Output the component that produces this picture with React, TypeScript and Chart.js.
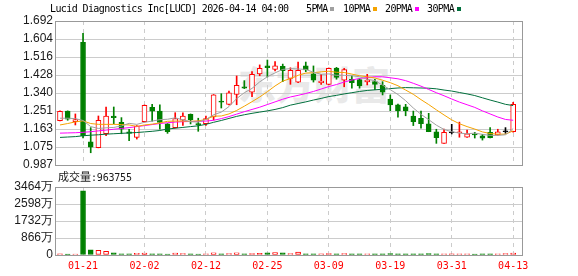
import React, { useEffect, useRef } from 'react';
import { Chart, registerables } from 'chart.js';

Chart.register(...registerables);

// ---------- data ----------
const dates = [
  '01-15', '01-16', '01-20', '01-21', '01-22', '01-23', '01-26', '01-27', '01-28', '01-29',
  '01-30', '02-02', '02-03', '02-04', '02-05', '02-06', '02-09', '02-10', '02-11', '02-12',
  '02-13', '02-17', '02-18', '02-19', '02-20', '02-23', '02-24', '02-25', '02-26', '02-27',
  '03-02', '03-03', '03-04', '03-05', '03-06', '03-09', '03-10', '03-11', '03-12', '03-13',
  '03-16', '03-17', '03-18', '03-19', '03-20', '03-23', '03-24', '03-25', '03-26', '03-27',
  '03-30', '03-31', '04-01', '04-02', '04-06', '04-07', '04-08', '04-09', '04-10', '04-13',
];

const opens = [
  1.204, 1.251, 1.199, 1.588, 1.100, 1.072, 1.140, 1.227, 1.196, 1.150,
  1.122, 1.199, 1.269, 1.251, 1.188, 1.170, 1.207, 1.235, 1.188, 1.189,
  1.223, 1.300, 1.284, 1.333, 1.370, 1.343, 1.433, 1.472, 1.455, 1.470,
  1.411, 1.392, 1.472, 1.433, 1.390, 1.382, 1.462, 1.402, 1.407, 1.405,
  1.395, 1.395, 1.377, 1.310, 1.282, 1.272, 1.227, 1.216, 1.188, 1.150,
  1.093, 1.145, 1.145, 1.123, 1.137, 1.130, 1.147, 1.134, 1.150, 1.150,
];
const highs = [
  1.252, 1.252, 1.237, 1.632, 1.170, 1.227, 1.271, 1.271, 1.219, 1.162,
  1.180, 1.281, 1.284, 1.282, 1.190, 1.243, 1.243, 1.237, 1.216, 1.227,
  1.332, 1.336, 1.349, 1.423, 1.400, 1.444, 1.477, 1.501, 1.493, 1.481,
  1.463, 1.491, 1.491, 1.472, 1.431, 1.462, 1.465, 1.460, 1.423, 1.410,
  1.431, 1.407, 1.395, 1.330, 1.285, 1.284, 1.251, 1.251, 1.240, 1.162,
  1.163, 1.186, 1.197, 1.158, 1.147, 1.137, 1.170, 1.162, 1.170, 1.294,
];
const lows = [
  1.203, 1.206, 1.183, 1.120, 1.047, 1.071, 1.130, 1.189, 1.140, 1.106,
  1.114, 1.197, 1.202, 1.162, 1.142, 1.168, 1.181, 1.188, 1.152, 1.181,
  1.207, 1.266, 1.281, 1.282, 1.361, 1.321, 1.424, 1.418, 1.447, 1.395,
  1.382, 1.390, 1.444, 1.393, 1.382, 1.380, 1.407, 1.370, 1.363, 1.363,
  1.379, 1.356, 1.330, 1.253, 1.221, 1.228, 1.180, 1.167, 1.150, 1.093,
  1.093, 1.139, 1.123, 1.122, 1.119, 1.109, 1.119, 1.133, 1.142, 1.148,
];
const closes = [
  1.250, 1.211, 1.209, 1.130, 1.074, 1.206, 1.227, 1.219, 1.162, 1.142,
  1.178, 1.279, 1.251, 1.196, 1.150, 1.214, 1.227, 1.209, 1.185, 1.214,
  1.330, 1.294, 1.340, 1.377, 1.363, 1.431, 1.460, 1.463, 1.472, 1.449,
  1.451, 1.451, 1.452, 1.402, 1.398, 1.460, 1.416, 1.454, 1.390, 1.374,
  1.402, 1.382, 1.343, 1.281, 1.253, 1.253, 1.199, 1.189, 1.150, 1.121,
  1.147, 1.145, 1.150, 1.139, 1.134, 1.118, 1.121, 1.150, 1.150, 1.284,
];

const ma5 = [
  1.216, 1.216, 1.214, 1.205, 1.175, 1.166, 1.169, 1.171, 1.178, 1.191,
  1.186, 1.196, 1.202, 1.209, 1.211, 1.218, 1.208, 1.199, 1.197, 1.210,
  1.233, 1.246, 1.273, 1.312, 1.341, 1.362, 1.394, 1.419, 1.438, 1.455,
  1.459, 1.457, 1.455, 1.441, 1.431, 1.433, 1.426, 1.426, 1.424, 1.419,
  1.407, 1.400, 1.378, 1.356, 1.332, 1.302, 1.266, 1.235, 1.209, 1.182,
  1.161, 1.150, 1.143, 1.140, 1.143, 1.137, 1.132, 1.132, 1.135, 1.165,
];
const ma10 = [
  1.183, 1.190, 1.198, 1.203, 1.190, 1.186, 1.186, 1.186, 1.185, 1.183,
  1.176, 1.183, 1.187, 1.193, 1.201, 1.202, 1.202, 1.201, 1.203, 1.210,
  1.226, 1.227, 1.237, 1.254, 1.275, 1.297, 1.320, 1.346, 1.374, 1.398,
  1.410, 1.426, 1.437, 1.439, 1.443, 1.446, 1.441, 1.440, 1.432, 1.424,
  1.419, 1.413, 1.402, 1.390, 1.375, 1.354, 1.333, 1.307, 1.283, 1.257,
  1.232, 1.208, 1.189, 1.175, 1.163, 1.149, 1.141, 1.138, 1.138, 1.154,
];
const ma20 = [
  1.143, 1.144, 1.145, 1.147, 1.150, 1.154, 1.158, 1.162, 1.166, 1.170,
  1.175, 1.180, 1.185, 1.190, 1.194, 1.197, 1.199, 1.200, 1.201, 1.202,
  1.206, 1.214, 1.224, 1.236, 1.248, 1.259, 1.270, 1.283, 1.296, 1.309,
  1.320, 1.328, 1.337, 1.347, 1.359, 1.371, 1.381, 1.393, 1.403, 1.411,
  1.415, 1.419, 1.419, 1.414, 1.409, 1.400, 1.387, 1.373, 1.357, 1.341,
  1.326, 1.310, 1.295, 1.282, 1.269, 1.252, 1.237, 1.222, 1.210, 1.206,
];
const ma30 = [
  1.122, 1.124, 1.126, 1.130, 1.133, 1.135, 1.138, 1.140, 1.142, 1.144,
  1.146, 1.149, 1.152, 1.156, 1.163, 1.167, 1.171, 1.175, 1.179, 1.186,
  1.196, 1.205, 1.215, 1.225, 1.233, 1.240, 1.246, 1.252, 1.259, 1.268,
  1.280, 1.288, 1.296, 1.305, 1.313, 1.322, 1.328, 1.335, 1.341, 1.347,
  1.352, 1.355, 1.358, 1.361, 1.364, 1.366, 1.365, 1.364, 1.363, 1.360,
  1.354, 1.349, 1.342, 1.335, 1.327, 1.316, 1.305, 1.295, 1.284, 1.278,
];

const volumes = [
  550000, 450000, 500000, 32750000, 2600000, 2350000, 1850000, 1100000, 600000, 550000,
  900000, 1000000, 600000, 550000, 500000, 950000, 700000, 550000, 500000, 650000,
  1100000, 600000, 700000, 1100000, 600000, 750000, 800000, 1100000, 1200000, 1100000,
  700000, 1500000, 600000, 650000, 550000, 750000, 600000, 700000, 550000, 600000,
  650000, 550000, 600000, 750000, 600000, 550000, 650000, 600000, 700000, 650000,
  600000, 550000, 650000, 600000, 500000, 600000, 550000, 650000, 700000, 963755,
];

const dateTicks = ['01-21', '02-02', '02-12', '02-25', '03-09', '03-19', '03-31', '04-13'];
const priceTickLabels = ['0.987', '1.075', '1.163', '1.251', '1.340', '1.428', '1.516', '1.604', '1.692'];
const volumeTickLabels = ['0', '866万', '1732万', '2598万', '3464万'];
const priceMin = 0.987;
const priceMax = 1.692;
const volumeMax = 34640000;

const titleText = 'Lucid Diagnostics Inc[LUCD] 2026-04-14 04:00';
const maNames = ['5PMA', '10PMA', '20PMA', '30PMA'];
const volumeTitle = '成交量';
const lastVolume = 963755;
const watermark = '东方财富';

// ---------- styling ----------
const RED = '#ff0000';
const GREEN = '#008000';
const BLACK = '#000000';
const maColors = ['#a0a0a0', '#f5a300', '#ff00ff', '#006f3c'];
const gridColor = '#cccccc';
const frameColor = '#999999';
const monoFont = '"DejaVu Sans Mono", monospace';
const labelFont = '"Liberation Sans", Arial, sans-serif';
const xMin = -0.65;
const xMax = 60.15;

function candleColor(i: number) {
  if (closes[i] > opens[i]) return RED;
  if (closes[i] < opens[i]) return GREEN;
  return BLACK;
}
function volumeColor(i: number) {
  return closes[i] < opens[i] ? GREEN : RED;
}

const framePlugin = {
  id: 'frame',
  afterDraw(chart: any) {
    const { ctx, chartArea: a } = chart;
    ctx.save();
    ctx.strokeStyle = frameColor;
    ctx.lineWidth = 1;
    const l = Math.round(a.left) + 0.5;
    const t = Math.round(a.top) + 0.5;
    const r = Math.round(a.right) + 0.5;
    const b = Math.round(a.bottom) + 0.5;
    ctx.strokeRect(l, t, r - l, b - t);
    ctx.restore();
  },
};

const tickIndices = dateTicks.map((d) => dates.indexOf(d));

function xScale(showLabels: boolean, height: number) {
  return {
    type: 'linear',
    min: xMin,
    max: xMax,
    offset: false,
    grid: { color: gridColor, drawTicks: false, offset: false, lineWidth: 1 },
    border: { display: false, dash: [4, 4] },
    ticks: {
      display: showLabels,
      autoSkip: false,
      maxRotation: 0,
      minRotation: 0,
      padding: 5,
      color: RED,
      font: { family: monoFont, size: 10 },
      callback: (_v: any, i: number) => dateTicks[i],
    },
    afterBuildTicks: (s: any) => {
      s.ticks = tickIndices.map((v) => ({ value: v }));
    },
    afterFit: (s: any) => {
      s.height = height;
    },
  };
}

function yScale(min: number, max: number, labels: string[]) {
  return {
    type: 'linear',
    min,
    max,
    beginAtZero: false,
    grid: { color: gridColor, drawTicks: false, lineWidth: 1 },
    border: { display: false },
    ticks: {
      padding: 2,
      autoSkip: false,
      color: '#1a1a1a',
      font: { family: labelFont, size: 12 },
      callback: (_v: any, i: number) => labels[i],
    },
    afterBuildTicks: (s: any) => {
      const n = labels.length - 1;
      s.ticks = labels.map((_l, k) => ({ value: min + (k * (max - min)) / n }));
    },
    afterFit: (s: any) => {
      s.width = 55;
    },
  };
}

function buildPriceChart(canvas: HTMLCanvasElement) {
  const idx = dates.map((_d, i) => i);
  const colors = idx.map(candleColor);
  const maSeries = [ma5, ma10, ma20, ma30];
  return new Chart(canvas, {
    type: 'bar',
    data: {
      datasets: [
        ...maSeries.map((s, k) => ({
          type: 'line',
          data: s.map((v, i) => ({ x: i, y: v })),
          borderColor: maColors[k],
          borderWidth: 1,
          pointRadius: 0,
          tension: 0,
          fill: false,
          order: -1,
        })),
        {
          type: 'bar',
          data: idx.map((i) => ({ x: i, y: [opens[i], closes[i]] })),
          backgroundColor: idx.map((i) => (closes[i] > opens[i] ? '#ffffff' : colors[i])),
          borderColor: colors,
          borderWidth: 1,
          borderSkipped: false,
          barThickness: 5,
          grouped: false,
          minBarLength: 1,
          order: 0,
        },
        {
          type: 'bar',
          data: idx.map((i) => ({ x: i, y: [lows[i], highs[i]] })),
          backgroundColor: colors,
          borderWidth: 0,
          barThickness: 1,
          grouped: false,
          order: 1,
        },
      ],
    } as any,
    options: {
      responsive: false,
      animation: false,
      devicePixelRatio: 1,
      events: [],
      layout: { padding: { top: 21, right: 56, bottom: 15, left: 0 } },
      plugins: { legend: { display: false }, tooltip: { enabled: false } },
      scales: {
        x: xScale(false, 0),
        y: yScale(priceMin, priceMax, priceTickLabels),
      },
    } as any,
    plugins: [framePlugin],
  });
}

function buildVolumeChart(canvas: HTMLCanvasElement) {
  const idx = dates.map((_d, i) => i);
  const colors = idx.map(volumeColor);
  return new Chart(canvas, {
    type: 'bar',
    data: {
      datasets: [
        {
          data: idx.map((i) => ({ x: i, y: volumes[i] })),
          backgroundColor: idx.map((i) => (colors[i] === RED ? '#ffffff' : GREEN)),
          borderColor: colors,
          borderWidth: 1,
          borderSkipped: false,
          barThickness: 5,
          grouped: false,
        },
      ],
    } as any,
    options: {
      responsive: false,
      animation: false,
      devicePixelRatio: 1,
      events: [],
      layout: { padding: { top: 19, right: 56, bottom: 0, left: 0 } },
      plugins: { legend: { display: false }, tooltip: { enabled: false } },
      scales: {
        x: xScale(true, 21),
        y: yScale(0, volumeMax, volumeTickLabels),
      },
    } as any,
    plugins: [framePlugin],
  });
}

const legendX = [306, 343, 385, 427];
const legendSquareX = [330, 373, 415, 457];

export default function App() {
  const priceRef = useRef<HTMLCanvasElement>(null);
  const volRef = useRef<HTMLCanvasElement>(null);

  useEffect(() => {
    const p = buildPriceChart(priceRef.current as HTMLCanvasElement);
    const v = buildVolumeChart(volRef.current as HTMLCanvasElement);
    return () => {
      p.destroy();
      v.destroy();
    };
  }, []);

  const textBase: React.CSSProperties = {
    position: 'absolute',
    whiteSpace: 'pre',
    color: '#000',
    fontFamily: monoFont,
    fontSize: 10,
    lineHeight: '12px',
    letterSpacing: '-0.6px',
  };

  return (
    <div style={{ position: 'absolute', left: 0, top: 0, width: 578, height: 276, background: '#fff', overflow: 'hidden' }}>
      <div
        style={{
          position: 'absolute',
          left: 238,
          top: 62,
          fontFamily: '"Noto Sans CJK SC", sans-serif',
          fontWeight: 900,
          fontSize: 38,
          lineHeight: '42px',
          color: '#e9e9e9',
          whiteSpace: 'pre',
        }}
      >
        {watermark}
      </div>
      <canvas ref={priceRef} width={578} height={180} style={{ position: 'absolute', left: 0, top: 0, width: 578, height: 180 }} />
      <canvas ref={volRef} width={578} height={108} style={{ position: 'absolute', left: 0, top: 168, width: 578, height: 108 }} />
      <div style={{ ...textBase, left: 50, top: 3 }}>{titleText}</div>
      {maNames.map((n, k) => (
        <React.Fragment key={n}>
          <div style={{ ...textBase, left: legendX[k], top: 3 }}>{n}</div>
          <div style={{ position: 'absolute', left: legendSquareX[k], top: 7, width: 4, height: 4, background: maColors[k] }} />
        </React.Fragment>
      ))}
      <div style={{ position: 'absolute', left: 58, top: 169, whiteSpace: 'pre', color: '#1a1a1a', lineHeight: '14px' }}>
        <span style={{ fontFamily: '"Noto Sans CJK SC", sans-serif', fontSize: 11 }}>{volumeTitle}</span>
        <span style={{ fontFamily: monoFont, fontSize: 10, letterSpacing: '-0.2px' }}>{':' + lastVolume}</span>
      </div>
    </div>
  );
}
